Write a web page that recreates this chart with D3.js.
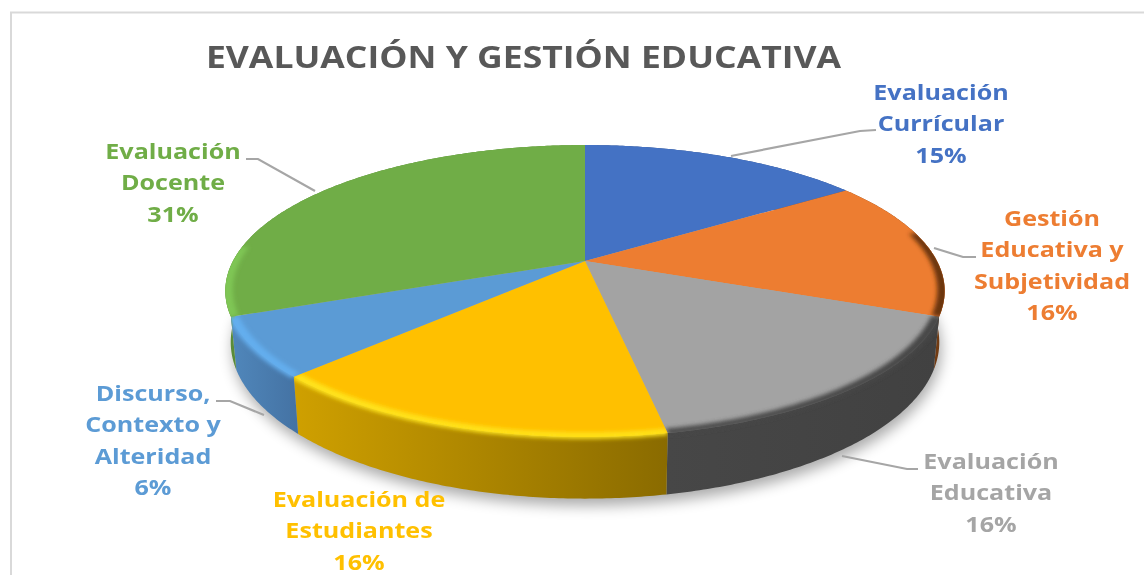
<!DOCTYPE html>
<html><head><meta charset="utf-8">
<script src="https://cdn.jsdelivr.net/npm/d3@7"></script>
<style>html,body{margin:0;padding:0;background:#fff}svg{display:block}text{font-family:"Open Sans",sans-serif}</style>
</head><body><div id="chart"></div>
<script>
// ---- data ----
const chartTitle = "EVALUACIÓN Y GESTIÓN EDUCATIVA";
const categories = [
  ["Evaluación","Currícular"],
  ["Gestión","Educativa y","Subjetividad"],
  ["Evaluación","Educativa"],
  ["Evaluación de","Estudiantes"],
  ["Discurso,","Contexto y","Alteridad"],
  ["Evaluación","Docente"]
];
const values = [15.49,15.51,16,15.5,6.49,31.01];
// ---- styles ----
const topColors  = ["#4472c4","#ed7d31","#a3a3a3","#ffc000","#5b9bd5","#70ad47"];
const labelColors= ["#4472c4","#ed7d31","#a5a5a5","#ffc000","#5b9bd5","#70ad47"];
const sideLeft   = ["#2f4f88","#8a4a1c","#474747","#cfa000","#5087bb","#5a8c39"];
const sideRight  = ["#2f4f88","#6f3a12","#414141","#8a6b00","#4472a3","#5a8c39"];
const rimColors  = [null,"#6b3510","#474747","#ffe41a","#63aeee","#7fc655"];
// ---- layout ----
const labelLayout = [
  {x:941,y:100,leader:[[731,156],[860,131],[876,130]]},
  {x:1052,y:226,leader:[[934,248],[963,257],[976,257]]},
  {x:991,y:469,leader:[[842,456],[907,469],[918,469]]},
  {x:359,y:507,leader:null},
  {x:153,y:401,leader:[[216,401],[230,401],[264,415]]},
  {x:173,y:159,leader:[[246,159],[258,159],[315,191]]}
];
const W=1144,H=575, cx=585, cy=261, k=0.2055, A=139.8, B=352, depth=49, shrink=0.985, stretch=1.157, titleStretch=1.185;
const svg=d3.select("#chart").append("svg").attr("width",W).attr("height",H);
const defs=svg.append("defs");
defs.append("filter").attr("id","shadow").attr("x","-20%").attr("y","-30%").attr("width","140%").attr("height","160%")
  .append("feGaussianBlur").attr("stdDeviation",7);
defs.append("filter").attr("id","soft").attr("x","-20%").attr("y","-20%").attr("width","140%").attr("height","140%")
  .append("feGaussianBlur").attr("stdDeviation",1.9);
defs.append("filter").attr("id","tsoft").attr("x","-5%").attr("y","-10%").attr("width","110%").attr("height","120%")
  .append("feGaussianBlur").attr("stdDeviation",0.4);

// frame
svg.append("path").attr("d",d3.line()([[11,H],[11,12.5],[W,12.5]])).attr("fill","none").attr("stroke","#d9d9d9").attr("stroke-width",2);

// perspective projection of the pie disc; angle 0 = 12 o'clock, clockwise
const topPt=(a,r=1)=>{const u=r*Math.sin(a),v=r*Math.cos(a),w=1+k*v;return [cx+B*u/w,cy-A*v/w];};
const botPt=(a,r=1)=>{const u=r*Math.sin(a),v=r*Math.cos(a),w=1+k*v;return [cx+shrink*B*u/w,cy-A*v/w+depth/w];};
const samples=(a0,a1)=>{const n=Math.max(2,Math.ceil((a1-a0)/0.01));return d3.range(n+1).map(i=>a0+(a1-a0)*i/n);};
const line=d3.line();

const arcs=d3.pie().sort(null).value(d=>d)(values);

// ground shadow
svg.append("path")
  .attr("d",line(samples(0,2*Math.PI).map(a=>{const p=botPt(a);return [p[0]+2,p[1]+7];}))+"Z")
  .attr("fill","#000").attr("opacity",.33).attr("filter","url(#shadow)");

// side walls, back to front
const sides=svg.append("g");
const sidePaths=arcs.map((d,i)=>{
  const as=samples(d.startAngle,d.endAngle);
  const pts=as.map(a=>topPt(a)).concat(as.slice().reverse().map(a=>botPt(a)));
  const ext=d3.extent(pts,p=>p[0]);
  const g=defs.append("linearGradient").attr("id","side"+i).attr("gradientUnits","userSpaceOnUse")
    .attr("x1",ext[0]).attr("x2",ext[1]).attr("y1",0).attr("y2",0);
  g.append("stop").attr("offset",0).attr("stop-color",sideLeft[i]);
  g.append("stop").attr("offset",1).attr("stop-color",sideRight[i]);
  const p=line(pts)+"Z";
  sides.append("path").attr("d",p).attr("fill",`url(#side${i})`);
  return p;
});

// top surface
const wedge=d=>line([[cx,cy]].concat(samples(d.startAngle,d.endAngle).map(a=>topPt(a))))+"Z";
const tops=svg.append("g");
arcs.forEach((d,i)=>{
  tops.append("path").attr("d",wedge(d)).attr("fill",topColors[i]);
  const c=defs.append("clipPath").attr("id","clip"+i);
  c.append("path").attr("d",wedge(d));
  c.append("path").attr("d",sidePaths[i]);
});

// bevel along the visible front rim
const rimFrom=78*Math.PI/180, rimTo=276*Math.PI/180;
const rims=svg.append("g");
arcs.forEach((d,i)=>{
  if(!rimColors[i])return;
  const a0=Math.max(d.startAngle,rimFrom),a1=Math.min(d.endAngle,rimTo);
  if(a1<=a0)return;
  const as=samples(a0,a1);
  const band=as.map(a=>topPt(a,1.008)).concat(as.slice().reverse().map(a=>topPt(a,0.98)));
  rims.append("g").attr("clip-path",`url(#clip${i})`)
    .append("path").attr("d",line(band)+"Z").attr("fill",rimColors[i]).attr("filter","url(#soft)");
});

// title
const tg=svg.append("g").attr("filter","url(#tsoft)");
tg.append("text").attr("transform",`translate(523.5,68) scale(${titleStretch},1)`).attr("text-anchor","middle")
  .attr("font-size",30).attr("font-weight",700).attr("fill","#595959").text(chartTitle);

// leaders
svg.append("g").selectAll("path").data(labelLayout.filter(d=>d.leader)).join("path")
  .attr("d",d=>line(d.leader)).attr("fill","none").attr("stroke","#a6a6a6").attr("stroke-width",2.2);

// labels
const lg=svg.append("g").attr("filter","url(#tsoft)");
categories.forEach((c,i)=>{
  c.concat(Math.round(values[i])+"%").forEach((s,j)=>{
    lg.append("text").attr("transform",`translate(${labelLayout[i].x},${labelLayout[i].y+j*31.4}) scale(${stretch},1)`)
      .attr("text-anchor","middle").attr("font-size",21.7).attr("font-weight",700)
      .attr("fill",labelColors[i]).text(s);
  });
});
</script></body></html>
